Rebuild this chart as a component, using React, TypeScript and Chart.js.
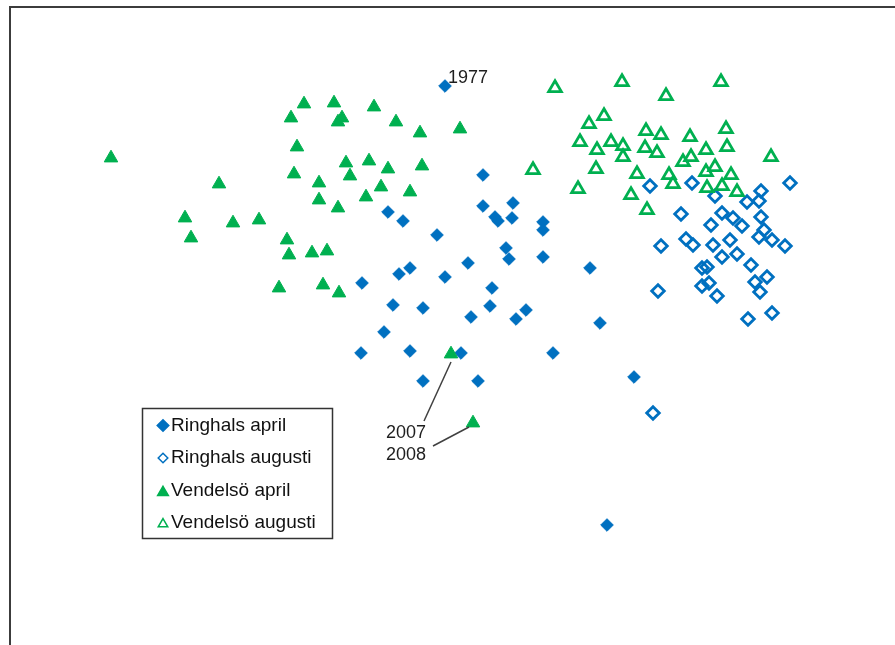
import React, { useEffect, useRef } from 'react';
import { Chart, registerables } from 'chart.js';
import * as helpers from 'chart.js/helpers';

Chart.register(...registerables);

// Ordination scores (axis 1, axis 2) per sample year
type P = [number, number];

const ringhalsApril: P[] = [
  [0.05, 2.44], [0.43, 1.55], [0.73, 1.27], [0.43, 1.24], [0.55, 1.13], [0.58, 1.09],
  [0.72, 1.12], [1.03, 1.08], [1.03, 1.0], [-0.52, 1.18], [-0.37, 1.09], [-0.03, 0.95],
  [0.66, 0.82], [0.69, 0.71], [1.03, 0.73], [0.28, 0.67], [-0.3, 0.62], [-0.41, 0.56],
  [0.05, 0.53], [-0.78, 0.47], [0.52, 0.42], [0.5, 0.24], [-0.47, 0.25], [-0.17, 0.22],
  [0.31, 0.13], [0.86, 0.2], [0.76, 0.11], [-0.56, -0.02], [-0.79, -0.23], [-0.3, -0.21],
  [0.21, -0.23], [1.13, -0.23], [-0.17, -0.51], [0.38, -0.51], [1.5, 0.62], [1.6, 0.07],
  [1.94, -0.47], [1.67, -1.95],
];

const ringhalsAugusti: P[] = [
  [2.1, 1.44], [2.52, 1.47], [3.5, 1.47], [2.75, 1.34], [3.21, 1.39], [3.07, 1.28],
  [3.19, 1.29], [2.41, 1.16], [2.82, 1.17], [2.93, 1.12], [3.02, 1.04], [2.71, 1.05],
  [3.21, 1.13], [3.24, 1.0], [3.19, 0.93], [3.32, 0.9], [2.9, 0.9], [2.46, 0.91],
  [2.53, 0.85], [2.73, 0.85], [2.21, 0.84], [3.45, 0.84], [2.97, 0.76], [2.82, 0.73],
  [3.11, 0.65], [2.62, 0.62], [2.67, 0.63], [3.27, 0.53], [3.15, 0.48], [2.62, 0.44],
  [2.69, 0.47], [3.2, 0.38], [2.18, 0.39], [2.77, 0.34], [3.32, 0.17], [3.08, 0.11],
  [2.13, -0.83],
];

const vendelsoApril: P[] = [
  [-3.29, 1.72], [-2.21, 1.46], [-2.55, 1.12], [-2.49, 0.92], [-2.07, 1.07], [-1.81, 1.1],
  [-1.36, 2.26], [-1.49, 2.12], [-1.06, 2.27], [-0.98, 2.12], [-1.02, 2.08], [-0.66, 2.23],
  [-0.44, 2.08], [-0.2, 1.97], [0.2, 2.01], [-1.43, 1.83], [-1.46, 1.56], [-0.94, 1.67],
  [-0.71, 1.69], [-0.9, 1.54], [-0.52, 1.61], [-0.18, 1.64], [-1.21, 1.47], [-0.59, 1.43],
  [-0.3, 1.38], [-1.21, 1.3], [-0.74, 1.33], [-1.02, 1.22], [-1.53, 0.9], [-1.51, 0.75],
  [-1.28, 0.77], [-1.13, 0.79], [-1.61, 0.42], [-1.17, 0.45], [-1.01, 0.37], [0.11, -0.24],
  [0.33, -0.93],
];

const vendelsoAugusti: P[] = [
  [1.15, 2.42], [1.82, 2.48], [2.81, 2.48], [2.26, 2.34], [1.64, 2.14], [1.49, 2.06],
  [1.4, 1.88], [1.57, 1.8], [1.71, 1.88], [1.83, 1.84], [1.83, 1.73], [1.56, 1.61],
  [1.38, 1.41], [0.93, 1.6], [2.06, 1.99], [2.21, 1.95], [2.05, 1.82], [2.17, 1.77],
  [2.5, 1.93], [2.66, 1.8], [2.43, 1.68], [2.51, 1.73], [1.97, 1.56], [2.29, 1.55],
  [2.33, 1.46], [1.91, 1.35], [2.07, 1.2], [2.86, 2.01], [2.87, 1.83], [3.31, 1.73],
  [2.75, 1.63], [2.66, 1.58], [2.91, 1.55], [2.82, 1.44], [2.67, 1.42], [2.97, 1.38],
];

const seriesNames = ['Ringhals april', 'Ringhals augusti', 'Vendelsö april', 'Vendelsö augusti'];

// Years written next to individual samples: [series index, point index, text]
const yearLabels: [number, number, string][] = [
  [0, 0, '1977'],
  [2, 35, '2007'],
  [2, 36, '2008'],
];

const BLUE = '#0070C0';
const GREEN = '#00B050';
const FONT = '"Liberation Sans", Arial, sans-serif';

const toXY = (arr: P[]) => arr.map(([x, y]) => ({ x, y }));

// Text placement / leader line for each year label, relative to its point (px)
const yearLayout: Record<string, { dx: number; dy: number; line?: [number, number, number, number] }> = {
  '1977': { dx: 3, dy: -8 },
  '2007': { dx: -65, dy: 79, line: [0, 8, -27, 67] },
  '2008': { dx: -87, dy: 32, line: [-4, 4, -40, 23] },
};

const decorations = {
  id: 'decorations',
  afterDatasetsDraw(chart: any) {
    const ctx: CanvasRenderingContext2D = chart.ctx;
    const xs = chart.scales.x;
    const ys = chart.scales.y;
    ctx.save();

    // outer frame (left and top edges)
    ctx.fillStyle = '#3c3c3c';
    ctx.fillRect(9, 6, 2, chart.height - 6);
    ctx.fillRect(9, 6, chart.width - 9, 2);

    // year labels
    ctx.font = `18px ${FONT}`;
    ctx.textBaseline = 'middle';
    ctx.textAlign = 'left';
    for (const [s, i, text] of yearLabels) {
      const pt = chart.data.datasets[s].data[i];
      const px = xs.getPixelForValue(pt.x);
      const py = ys.getPixelForValue(pt.y);
      const lay = yearLayout[text];
      if (lay.line) {
        ctx.strokeStyle = '#404040';
        ctx.lineWidth = 1.5;
        ctx.beginPath();
        ctx.moveTo(px + lay.line[0], py + lay.line[1]);
        ctx.lineTo(px + lay.line[2], py + lay.line[3]);
        ctx.stroke();
      }
      ctx.fillStyle = '#1e1e1e';
      ctx.fillText(text, px + lay.dx, py + lay.dy);
    }

    // legend box
    const bx = 142.5, by = 408.5, bw = 190, bh = 130;
    ctx.fillStyle = '#ffffff';
    ctx.fillRect(bx, by, bw, bh);
    ctx.strokeStyle = '#333333';
    ctx.lineWidth = 1.5;
    ctx.strokeRect(bx, by, bw, bh);

    const rowY = [425.5, 458, 491, 522.5];
    ctx.font = `19px ${FONT}`;
    chart.data.datasets.forEach((ds: any, k: number) => {
      const y = rowY[k];
      const isTri = ds.pointStyle === 'triangle';
      const open = ds.pointBackgroundColor === 'rgba(0,0,0,0)';
      ctx.fillStyle = ds.pointBackgroundColor;
      ctx.strokeStyle = ds.pointBorderColor;
      helpers.drawPoint(
        ctx,
        {
          pointStyle: ds.pointStyle,
          radius: isTri ? (open ? 5.5 : 6.2) : (open ? 4.8 : 5.8),
          borderWidth: open ? 2.2 : 1,
          rotation: 0,
        } as any,
        163,
        y + (isTri ? 1.5 : 0)
      );
      ctx.fillStyle = '#111111';
      ctx.textAlign = 'left';
      ctx.textBaseline = 'middle';
      ctx.fillText(ds.label, 171, y);
    });

    ctx.restore();
  },
};

export default function App() {
  const ref = useRef<HTMLCanvasElement | null>(null);

  useEffect(() => {
    if (!ref.current) return;
    const chart = new Chart(ref.current, {
      type: 'scatter',
      data: {
        datasets: [
          {
            label: seriesNames[0],
            data: toXY(ringhalsApril),
            pointStyle: 'rectRot',
            pointRadius: 6.3,
            pointBorderWidth: 1,
            pointBackgroundColor: BLUE,
            pointBorderColor: BLUE,
            order: 4,
          },
          {
            label: seriesNames[1],
            data: toXY(ringhalsAugusti),
            pointStyle: 'rectRot',
            pointRadius: 6.3,
            pointBorderWidth: 2.8,
            pointBackgroundColor: 'rgba(0,0,0,0)',
            pointBorderColor: BLUE,
            order: 3,
          },
          {
            label: seriesNames[2],
            data: toXY(vendelsoApril),
            pointStyle: 'triangle',
            pointRadius: 7.8,
            pointBorderWidth: 1,
            pointBackgroundColor: GREEN,
            pointBorderColor: GREEN,
            order: 2,
          },
          {
            label: seriesNames[3],
            data: toXY(vendelsoAugusti),
            pointStyle: 'triangle',
            pointRadius: 7.3,
            pointBorderWidth: 2.8,
            pointBackgroundColor: 'rgba(0,0,0,0)',
            pointBorderColor: GREEN,
            order: 1,
          },
        ] as any,
      },
      options: {
        animation: false,
        responsive: false,
        devicePixelRatio: 1,
        layout: { padding: 0, autoPadding: false } as any,
        clip: false as any,
        scales: {
          x: { type: 'linear', min: -4.4, max: 4.55, display: false },
          y: { type: 'linear', min: -3.15, max: 3.3, display: false },
        },
        plugins: {
          legend: { display: false },
          tooltip: { enabled: false },
        },
      },
      plugins: [decorations],
    });
    return () => chart.destroy();
  }, []);

  return (
    <div style={{ position: 'fixed', left: 0, top: 0, width: 895, height: 645, background: '#fff' }}>
      <canvas ref={ref} width={895} height={645} style={{ display: 'block' }} />
    </div>
  );
}
